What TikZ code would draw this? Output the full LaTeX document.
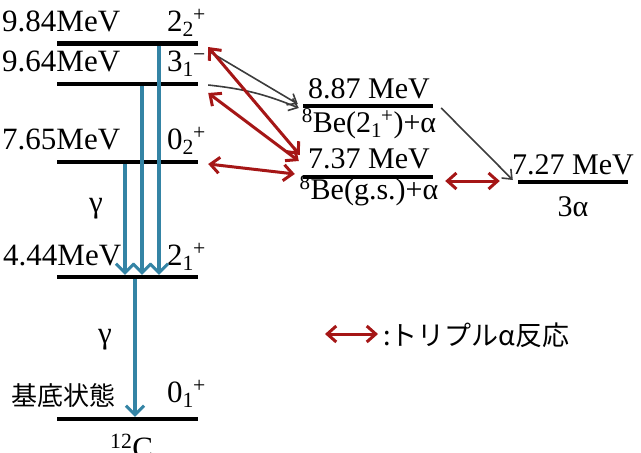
\documentclass[tikz,border=0pt]{standalone}
\usepackage{fontspec}
\setmainfont{Liberation Serif}
\newfontfamily\jp{Noto Sans CJK JP}
\usetikzlibrary{arrows.meta,calc}
\definecolor{blu}{RGB}{52,132,165}
\definecolor{dred}{RGB}{165,22,22}
\definecolor{dgray}{RGB}{60,60,60}
\newcommand\jpi[3]{#1\textsubscript{#2}\kern-1pt\textsuperscript{#3}}
\begin{document}
\begin{tikzpicture}[x=1pt,y=1pt,
  lev/.style={fill=black,draw=none,inner sep=0pt,minimum height=4pt},
  lab/.style={inner sep=0pt,font=\fontsize{31}{36}\selectfont},
  blab/.style={inner sep=0pt,font=\fontsize{30}{36}\selectfont},
  gam/.style={blu,line width=4pt,-{Straight Barb[length=9pt,width=18pt,line width=3pt]}},
  rar/.style={dred,line width=3pt,{Straight Barb[length=9pt,width=16pt]}-{Straight Barb[length=9pt,width=16pt]}},
  gar/.style={dgray,line width=1.6pt,-{Straight Barb[length=8pt,width=13pt]}}]
\useasboundingbox (0,0) rectangle (641,-453);
% 12C levels
\node[lev,minimum width=141pt,minimum height=5pt] (c984) at (127.5,-43) {};
\node[lev,minimum width=141pt] (c964) at (127.5,-84) {};
\node[lev,minimum width=141pt] (c765) at (127.5,-162) {};
\node[lev,minimum width=141pt] (c444) at (127.5,-277) {};
\node[lev,minimum width=141pt] (c0) at (127.5,-419) {};
% labels
\node[lab,anchor=base west] (t984) at (2,-31) {9.84MeV};
\node[lab,anchor=base west] (s984) at (167,-31) {\jpi{2}{2}{+}};
\node[lab,anchor=base west] (t964) at (2,-71) {9.64MeV};
\node[lab,anchor=base west] (s964) at (167,-71) {\jpi{3}{1}{\textminus}};
\node[lab,anchor=base west] (t765) at (2,-149) {7.65MeV};
\node[lab,anchor=base west] (s765) at (167,-149) {\jpi{0}{2}{+}};
\node[lab,anchor=base west] (t444) at (3,-265) {4.44MeV};
\node[lab,anchor=base west] (s444) at (167,-265) {\jpi{2}{1}{+}};
\node[lab] (g1) at (96,-209) {γ};
\node[lab] (g2) at (105,-340) {γ};
\node[inner sep=0pt,anchor=west,font=\jp\fontsize{26}{30}\selectfont] (gs) at (11,-396) {基底状態};
\node[lab,anchor=base west] (s0) at (167,-402) {\jpi{0}{1}{+}};
\node[lab,anchor=base west] (c12) at (110,-458) {\textsuperscript{12}C};
% gamma transitions
\coordinate (x1) at (125,0);
\coordinate (x2) at (142,0);
\coordinate (x3) at (159,0);
\coordinate (x0) at (135,0);
\draw[gam] (c765.south -| x1) -- (c444.north -| x1);
\draw[gam] (c964.south -| x2) -- (c444.north -| x2);
\draw[gam] (c984.south -| x3) -- (c444.north -| x3);
\draw[gam] (c444.south -| x0) -- (c0.north -| x0);
% 8Be + alpha
\node[lev,minimum width=130pt] (b887) at (368,-106) {};
\node[lev,minimum width=130pt] (b737) at (368,-177) {};
\node[blab,anchor=base] (t887) at (369,-98) {8.87 MeV};
\node[blab,anchor=base] (u887) at (369,-132) {\textsuperscript{8}Be(\jpi{2}{1}{+})+α};
\node[blab,anchor=base] (t737) at (369,-168) {7.37 MeV};
\node[blab,anchor=base] (u737) at (369,-199) {\textsuperscript{8}Be(g.s.)+α};
% 3 alpha
\node[lev,minimum width=110pt] (tri) at (573,-182) {};
\node[blab,anchor=base] (t727) at (573,-174) {7.27 MeV};
\node[blab,anchor=base] (u727) at (573,-216) {3α};
% decays (gray)
\draw[gar] ($(c984.east)+(12,-9)$) -- ($(b887.west)+(-5,2)$);
\draw[gar] ($(c964.east)+(10,-1)$) to[bend left=8] ($(b887.west)+(-4,-2)$);
\draw[gar] ($(b887.east)+(8,-2)$) -- ($(tri.west)+(-5,2)$);
% triple alpha (red)
\draw[rar] ($(c984.east)+(10,-4)$) -- ($(b737.west)+(-3,22)$);
\draw[rar] ($(c964.east)+(10,-9)$) -- ($(b737.west)+(-4,16)$);
\draw[rar] ($(c765.east)+(10,-2)$) -- ($(b737.west)+(-8,3)$);
\draw[rar] ($(b737.east)+(12,-4)$) -- ($(tri.west)+(-18,1)$);
% legend
\coordinate (l1) at (325,-334);
\coordinate (l2) at (378,-334);
\draw[rar] (l1) -- (l2);
\node[inner sep=0pt,anchor=west,font=\jp\fontsize{27}{30}\selectfont] (leg) at (383,-335) {:トリプルα反応};
\end{tikzpicture}
\end{document}
